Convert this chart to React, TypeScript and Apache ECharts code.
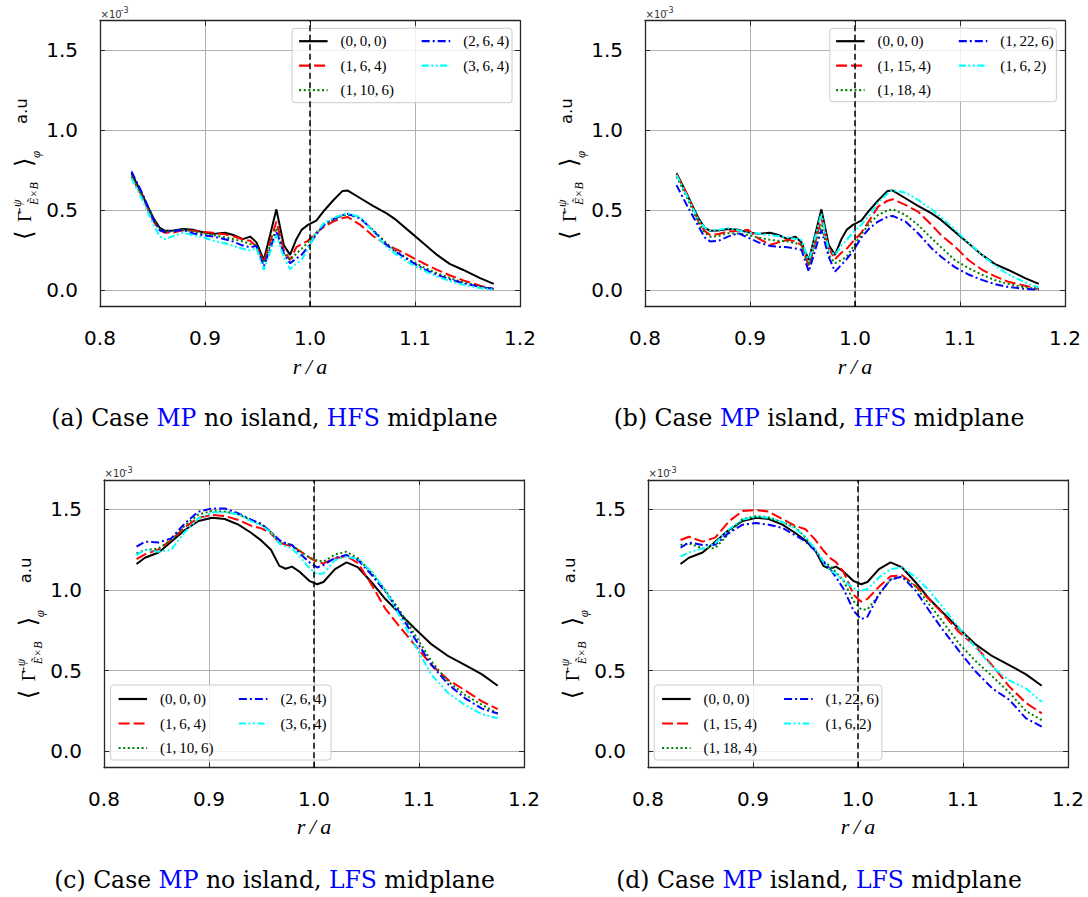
import React, { useEffect, useRef } from 'react';
import * as echarts from 'echarts';

// ---------- data ----------
const xHFS = [0.830, 0.840, 0.851, 0.857, 0.862, 0.870, 0.879, 0.889, 0.898, 0.908, 0.919, 0.927, 0.936, 0.943, 0.949, 0.956, 0.962, 0.968, 0.975, 0.981, 0.987, 0.992, 0.998, 1.006, 1.014, 1.022, 1.031, 1.036, 1.048, 1.060, 1.073, 1.082, 1.095, 1.108, 1.121, 1.133, 1.146, 1.162, 1.175];

const hfsBase = [0.731, 0.600, 0.450, 0.390, 0.372, 0.374, 0.384, 0.378, 0.363, 0.353, 0.360, 0.346, 0.320, 0.336, 0.300, 0.190, 0.346, 0.506, 0.284, 0.222, 0.320, 0.378, 0.409, 0.436, 0.502, 0.561, 0.621, 0.623, 0.575, 0.527, 0.481, 0.440, 0.367, 0.294, 0.222, 0.166, 0.128, 0.077, 0.041];
const hfsA_164 = [0.710, 0.590, 0.430, 0.375, 0.360, 0.362, 0.375, 0.372, 0.365, 0.360, 0.350, 0.338, 0.318, 0.310, 0.275, 0.180, 0.300, 0.430, 0.253, 0.190, 0.270, 0.290, 0.310, 0.360, 0.400, 0.430, 0.452, 0.458, 0.409, 0.340, 0.284, 0.258, 0.215, 0.170, 0.129, 0.095, 0.063, 0.030, 0.010];
const hfsA_1106 = [0.710, 0.590, 0.440, 0.380, 0.370, 0.370, 0.378, 0.370, 0.353, 0.345, 0.332, 0.320, 0.306, 0.290, 0.280, 0.170, 0.280, 0.390, 0.232, 0.190, 0.230, 0.260, 0.300, 0.360, 0.410, 0.440, 0.468, 0.475, 0.450, 0.378, 0.294, 0.245, 0.190, 0.145, 0.108, 0.078, 0.050, 0.025, 0.010];
const hfsA_264 = [0.742, 0.610, 0.440, 0.375, 0.365, 0.370, 0.378, 0.355, 0.345, 0.336, 0.320, 0.305, 0.280, 0.270, 0.278, 0.150, 0.260, 0.367, 0.232, 0.170, 0.200, 0.222, 0.270, 0.350, 0.415, 0.444, 0.470, 0.477, 0.450, 0.374, 0.284, 0.240, 0.185, 0.135, 0.098, 0.070, 0.045, 0.022, 0.010];
const hfsA_364 = [0.700, 0.570, 0.410, 0.336, 0.320, 0.340, 0.360, 0.345, 0.332, 0.310, 0.295, 0.278, 0.260, 0.249, 0.263, 0.129, 0.240, 0.346, 0.210, 0.133, 0.170, 0.190, 0.260, 0.360, 0.425, 0.450, 0.475, 0.481, 0.457, 0.367, 0.270, 0.225, 0.170, 0.125, 0.087, 0.060, 0.036, 0.015, 0.005];

const hfsB_1154 = [0.727, 0.600, 0.430, 0.370, 0.346, 0.352, 0.367, 0.372, 0.378, 0.325, 0.284, 0.300, 0.316, 0.306, 0.284, 0.150, 0.300, 0.450, 0.263, 0.195, 0.235, 0.260, 0.305, 0.360, 0.440, 0.523, 0.560, 0.569, 0.534, 0.492, 0.409, 0.345, 0.275, 0.190, 0.129, 0.090, 0.054, 0.030, 0.010];
const hfsB_1184 = [0.710, 0.580, 0.420, 0.360, 0.335, 0.340, 0.357, 0.355, 0.346, 0.330, 0.316, 0.310, 0.306, 0.295, 0.284, 0.160, 0.290, 0.409, 0.222, 0.170, 0.190, 0.210, 0.270, 0.350, 0.420, 0.471, 0.500, 0.506, 0.471, 0.409, 0.325, 0.270, 0.190, 0.140, 0.098, 0.065, 0.040, 0.020, 0.008];
const hfsB_1226 = [0.657, 0.530, 0.400, 0.330, 0.306, 0.310, 0.336, 0.357, 0.330, 0.300, 0.278, 0.272, 0.270, 0.262, 0.253, 0.118, 0.250, 0.378, 0.210, 0.118, 0.160, 0.195, 0.245, 0.330, 0.390, 0.430, 0.460, 0.465, 0.430, 0.357, 0.263, 0.210, 0.146, 0.100, 0.066, 0.040, 0.022, 0.010, 0.005];
const hfsB_162 = [0.720, 0.590, 0.440, 0.390, 0.374, 0.378, 0.388, 0.375, 0.360, 0.355, 0.345, 0.340, 0.330, 0.322, 0.316, 0.180, 0.330, 0.480, 0.253, 0.222, 0.280, 0.316, 0.360, 0.410, 0.470, 0.548, 0.605, 0.627, 0.610, 0.565, 0.506, 0.458, 0.380, 0.297, 0.222, 0.157, 0.100, 0.050, 0.018];

const xLFS = [0.831, 0.839, 0.852, 0.864, 0.877, 0.890, 0.903, 0.915, 0.928, 0.940, 0.950, 0.959, 0.967, 0.973, 0.979, 0.986, 0.996, 1.003, 1.009, 1.020, 1.031, 1.042, 1.055, 1.068, 1.080, 1.096, 1.112, 1.128, 1.144, 1.160, 1.175];

const lfsBase = [1.161, 1.200, 1.233, 1.300, 1.372, 1.428, 1.448, 1.440, 1.405, 1.355, 1.306, 1.250, 1.150, 1.132, 1.145, 1.115, 1.055, 1.036, 1.050, 1.130, 1.171, 1.140, 1.047, 0.944, 0.866, 0.762, 0.663, 0.590, 0.535, 0.477, 0.407];
const lfsC_164 = [1.192, 1.221, 1.252, 1.310, 1.390, 1.448, 1.465, 1.459, 1.434, 1.399, 1.382, 1.350, 1.295, 1.280, 1.272, 1.245, 1.200, 1.175, 1.165, 1.196, 1.211, 1.166, 1.031, 0.884, 0.785, 0.660, 0.535, 0.442, 0.378, 0.310, 0.262];
const lfsC_1106 = [1.227, 1.248, 1.258, 1.310, 1.400, 1.469, 1.490, 1.486, 1.469, 1.434, 1.408, 1.360, 1.300, 1.290, 1.279, 1.243, 1.200, 1.184, 1.176, 1.221, 1.238, 1.196, 1.103, 0.998, 0.889, 0.724, 0.556, 0.432, 0.349, 0.290, 0.235];
const lfsC_264 = [1.269, 1.300, 1.295, 1.320, 1.413, 1.486, 1.506, 1.506, 1.475, 1.436, 1.410, 1.360, 1.310, 1.290, 1.279, 1.230, 1.170, 1.140, 1.155, 1.200, 1.217, 1.186, 1.093, 0.990, 0.876, 0.700, 0.535, 0.415, 0.329, 0.265, 0.235];
const lfsC_364 = [1.217, 1.248, 1.238, 1.250, 1.360, 1.445, 1.480, 1.483, 1.470, 1.427, 1.400, 1.357, 1.287, 1.272, 1.258, 1.210, 1.133, 1.098, 1.103, 1.186, 1.207, 1.192, 1.114, 1.000, 0.857, 0.660, 0.473, 0.360, 0.287, 0.230, 0.205];

const lfsD_1154 = [1.310, 1.330, 1.300, 1.325, 1.425, 1.490, 1.496, 1.486, 1.440, 1.399, 1.377, 1.314, 1.245, 1.200, 1.173, 1.115, 0.970, 0.928, 0.945, 1.020, 1.085, 1.092, 1.025, 0.940, 0.860, 0.740, 0.652, 0.531, 0.403, 0.300, 0.236];
const lfsD_1184 = [1.279, 1.289, 1.258, 1.260, 1.350, 1.440, 1.458, 1.450, 1.420, 1.390, 1.325, 1.250, 1.180, 1.150, 1.110, 1.060, 0.930, 0.880, 0.880, 0.970, 1.065, 1.083, 1.020, 0.910, 0.810, 0.670, 0.560, 0.465, 0.365, 0.250, 0.194];
const lfsD_1226 = [1.262, 1.295, 1.279, 1.280, 1.355, 1.405, 1.415, 1.405, 1.385, 1.340, 1.302, 1.245, 1.175, 1.135, 1.080, 1.010, 0.870, 0.820, 0.835, 0.975, 1.065, 1.083, 0.995, 0.870, 0.760, 0.625, 0.495, 0.390, 0.320, 0.205, 0.153];
const lfsD_162 = [1.207, 1.233, 1.258, 1.290, 1.377, 1.436, 1.455, 1.448, 1.422, 1.381, 1.330, 1.255, 1.175, 1.125, 1.100, 1.060, 1.010, 0.996, 1.006, 1.078, 1.130, 1.140, 1.080, 0.995, 0.900, 0.767, 0.643, 0.524, 0.440, 0.390, 0.307];

const namesNoIsland = ['(0,\u20090,\u20090)', '(1,\u20096,\u20094)', '(1,\u200910,\u20096)', '(2,\u20096,\u20094)', '(3,\u20096,\u20094)'];
const namesIsland = ['(0,\u20090,\u20090)', '(1,\u200915,\u20094)', '(1,\u200918,\u20094)', '(1,\u200922,\u20096)', '(1,\u20096,\u20092)'];

const xTicks = { min: 0.8, max: 1.2, step: 0.1 };
const yRange = { min: -0.101, max: 1.682, step: 0.5 };
const separatrix = 1.0;

const captions = [
  '(a) Case {b|MP} no island, {b|HFS} midplane',
  '(b) Case {b|MP} island, {b|HFS} midplane',
  '(c) Case {b|MP} no island, {b|LFS} midplane',
  '(d) Case {b|MP} island, {b|LFS} midplane',
];

// ---------- styles / layout ----------
const lineStyles = [
  { color: '#000000', type: 'solid' as any },
  { color: '#ff0000', type: [11, 4] },
  { color: '#008000', type: [2, 2.6] },
  { color: '#0000ff', type: [8, 3, 2, 3] },
  { color: '#00ffff', type: [7, 2.5, 2, 2.5, 2, 2.5] },
];

const panels = [
  { left: 100, top: 20.7, height: 286, names: namesNoIsland, xs: xHFS, ys: [hfsBase, hfsA_164, hfsA_1106, hfsA_264, hfsA_364],
    legendTop: 33.7, col1: 298, col2: 420.6, frame: [292, 28.3, 220, 74.4], capX: 274.5, capY: 418 },
  { left: 645, top: 20.7, height: 286, names: namesIsland, xs: xHFS, ys: [hfsBase, hfsB_1154, hfsB_1184, hfsB_1226, hfsB_162],
    legendTop: 33.7, col1: 835, col2: 957.7, frame: [829.8, 28.3, 226.6, 73.4], capX: 819, capY: 418 },
  { left: 104, top: 480, height: 287.7, names: namesNoIsland, xs: xLFS, ys: [lfsBase, lfsC_164, lfsC_1106, lfsC_264, lfsC_364],
    legendTop: 691.5, col1: 117.5, col2: 237.8, frame: [110.5, 685, 220.5, 75], capX: 274.5, capY: 880 },
  { left: 648, top: 480, height: 287.7, names: namesIsland, xs: xLFS, ys: [lfsBase, lfsD_1154, lfsD_1184, lfsD_1226, lfsD_162],
    legendTop: 691.5, col1: 661, col2: 783, frame: [654.2, 685, 227.7, 75], capX: 819, capY: 880 },
];
const GRID_W = 420;

const yLabelParts = [
  { t: '\u27E8', x: 24, y: 240, font: '24px DejaVu Serif' },
  { t: '\u0393\u0304', x: 24.5, y: 222, font: '19px Liberation Serif' },
  { t: '\u03C8', x: 17, y: 207, font: 'italic 12px Liberation Serif' },
  { t: 'E\u0303\u00D7B', x: 34, y: 205, font: 'italic 12px Liberation Serif' },
  { t: '\u27E9', x: 24, y: 167, font: '24px DejaVu Serif' },
  { t: '\u03C6', x: 35, y: 158, font: 'italic 13px Liberation Serif' },
  { t: 'a.u', x: 21, y: 124, font: '16.5px DejaVu Sans' },
];

const AX = '#262626';

function buildOption() {
  const grid: any[] = [];
  const xAxis: any[] = [];
  const yAxis: any[] = [];
  const series: any[] = [];
  const legend: any[] = [];
  const graphic: any[] = [];

  const fmtY = (v: number) => (Math.abs(v / yRange.step - Math.round(v / yRange.step)) < 1e-6 ? v.toFixed(1) : '');

  panels.forEach((p, i) => {
    grid.push({ left: p.left, top: p.top, width: GRID_W, height: p.height, containLabel: false });
    const xBase = {
      gridIndex: i, type: 'value', min: xTicks.min, max: xTicks.max, interval: xTicks.step,
      axisLine: { show: true, onZero: false, lineStyle: { color: AX, width: 1.3 } },
      axisTick: { show: true, inside: true, length: 5, lineStyle: { color: AX, width: 1 } },
    };
    xAxis.push({
      ...xBase, position: 'bottom',
      axisLabel: { show: true, margin: 21, fontSize: 20, fontFamily: 'DejaVu Sans', color: '#000', formatter: (v: number) => v.toFixed(1) },
      splitLine: { show: true, lineStyle: { color: '#b0b0b0', width: 1 } },
    });
    xAxis.push({ ...xBase, position: 'top', axisLabel: { show: false }, splitLine: { show: false } });
    const yBase = {
      gridIndex: i, type: 'value', min: yRange.min, max: yRange.max, minInterval: yRange.step, maxInterval: yRange.step,
      axisLine: { show: true, onZero: false, lineStyle: { color: AX, width: 1.3 } },
      axisTick: { show: true, inside: true, length: 5, lineStyle: { color: AX, width: 1 } },
    };
    yAxis.push({
      ...yBase, position: 'left',
      axisLabel: { show: true, margin: 22, fontSize: 20, fontFamily: 'DejaVu Sans', color: '#000', formatter: fmtY },
      splitLine: { show: true, lineStyle: { color: '#b0b0b0', width: 1 } },
    });
    yAxis.push({ ...yBase, position: 'right', axisLabel: { show: false }, splitLine: { show: false } });

    p.ys.forEach((ys, k) => {
      const s: any = {
        type: 'line', name: p.names[k], xAxisIndex: 2 * i, yAxisIndex: 2 * i,
        data: p.xs.map((x, j) => [x, ys[j]]),
        symbol: 'none', showSymbol: false, smooth: false,
        lineStyle: { color: lineStyles[k].color, width: 2, type: lineStyles[k].type },
        itemStyle: { color: lineStyles[k].color },
        emphasis: { disabled: true },
      };
      if (k === 0) {
        s.markLine = {
          silent: true, symbol: ['none', 'none'], label: { show: false },
          lineStyle: { color: '#000', type: [6, 3.5], width: 1.5 },
          emphasis: { disabled: true },
          data: [{ xAxis: separatrix }],
        };
      }
      series.push(s);
    });

    const legendCommon = {
      orient: 'vertical', top: p.legendTop, itemWidth: 28.5, itemHeight: 14, itemGap: 9.5, padding: 0,
      selectedMode: false,
      itemStyle: { opacity: 0 },
      lineStyle: { width: 2.2 },
      textStyle: { fontFamily: 'Liberation Serif', fontSize: 15, color: '#000', lineHeight: 14, padding: [0, 0, 0, 8] },
    };
    legend.push({ ...legendCommon, left: p.col1, data: p.names.slice(0, 3) });
    legend.push({ ...legendCommon, left: p.col2, data: p.names.slice(3) });

    const [fx, fy, fw, fh] = p.frame;
    graphic.push({
      type: 'rect', z: 3, silent: true,
      shape: { x: fx, y: fy, width: fw, height: fh, r: 3 },
      style: { fill: 'rgba(255,255,255,0.8)', stroke: '#cccccc', lineWidth: 1 },
    });

    const dx = p.left - 100;
    const dy = p.top - 20.7;
    yLabelParts.forEach((part) => {
      graphic.push({
        type: 'text', z: 5, silent: true, x: part.x + dx, y: part.y + dy, rotation: Math.PI / 2,
        style: { text: part.t, font: part.font, fill: '#000', align: 'left', verticalAlign: 'middle', textAlign: 'left', textVerticalAlign: 'middle' },
      });
    });

    graphic.push({
      type: 'text', z: 5, silent: true, x: p.left + 0.5, y: p.top - 6.5,
      style: { text: '\u00D710', font: '10px DejaVu Sans', fill: '#333', align: 'left', verticalAlign: 'middle', textAlign: 'left', textVerticalAlign: 'middle' },
    });
    graphic.push({
      type: 'text', z: 5, silent: true, x: p.left + 20.5, y: p.top - 10,
      style: { text: '-3', font: '8px DejaVu Sans', fill: '#333', align: 'left', verticalAlign: 'middle', textAlign: 'left', textVerticalAlign: 'middle' },
    });
    graphic.push({
      type: 'text', z: 5, silent: true, x: p.left + GRID_W / 2, y: p.top + 346,
      style: { text: 'r\u2009/\u2009a', font: 'italic 22px Liberation Serif', fill: '#000', align: 'center', verticalAlign: 'middle', textAlign: 'center', textVerticalAlign: 'middle' },
    });
    graphic.push({
      type: 'text', z: 5, silent: true, x: p.capX, y: p.capY,
      style: {
        text: captions[i], fontSize: 23.5, fontFamily: 'DejaVu Serif', fill: '#000',
        align: 'center', verticalAlign: 'middle', textAlign: 'center', textVerticalAlign: 'middle',
        rich: { b: { fill: '#0000ff', fontSize: 23.5, fontFamily: 'DejaVu Serif' } },
      },
    });
  });

  return {
    animation: false,
    backgroundColor: '#ffffff',
    grid, xAxis, yAxis, series, legend, graphic,
  };
}

export default function App() {
  const ref = useRef<HTMLDivElement>(null);
  useEffect(() => {
    const chart = echarts.init(ref.current as HTMLDivElement, null, { renderer: 'svg' });
    chart.setOption(buildOption() as any);
    return () => chart.dispose();
  }, []);
  return <div ref={ref} style={{ position: 'fixed', left: 0, top: 0, width: 1088, height: 897, background: '#fff' }} />;
}
